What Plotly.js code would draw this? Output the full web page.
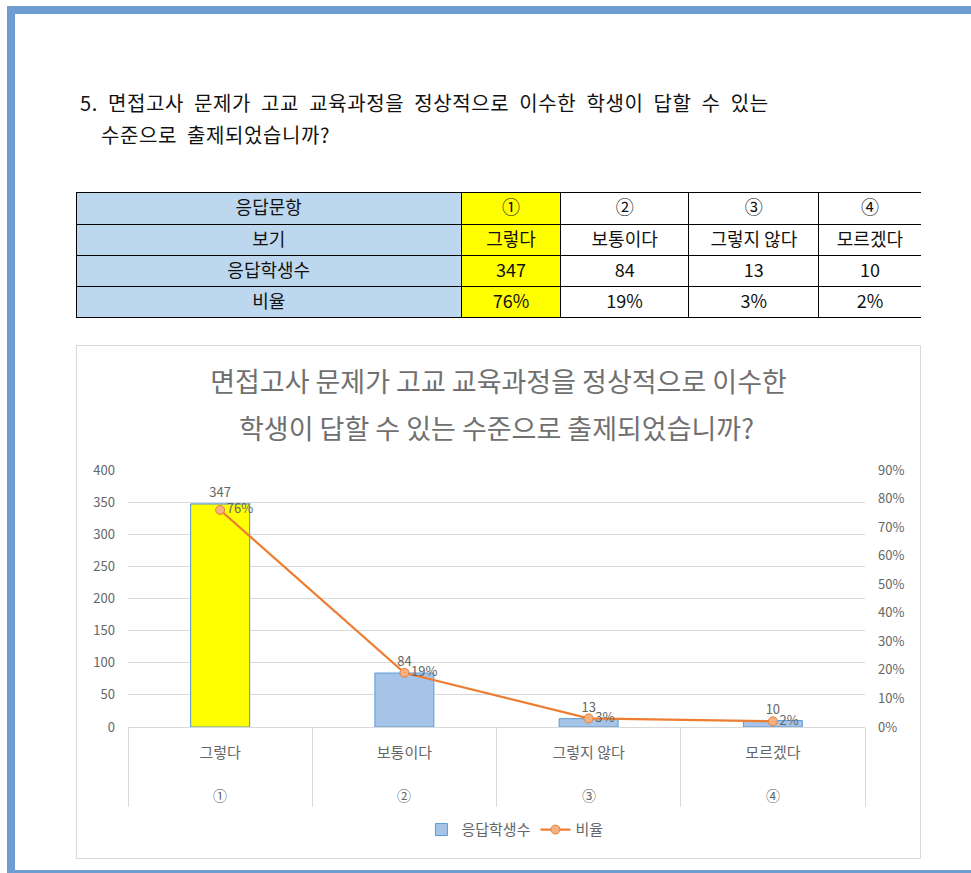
<!DOCTYPE html>
<html>
<head>
<meta charset="utf-8">
<script src="https://cdn.plot.ly/plotly-3.0.1.min.js"></script>
<style>
  html, body { margin:0; padding:0; background:#fff; width:971px; height:873px; overflow:hidden; }
  body { position:relative; font-family:"Noto Sans CJK KR","Noto Sans",sans-serif; }
  #frame { position:absolute; left:7px; top:6px; width:1000px; height:856px;
           border-left:8px solid #6F9DD2; border-top:8px solid #6F9DD2; border-bottom:4px solid #6F9DD2; }
  .hd { position:absolute; font-size:20px; line-height:32px; color:#111; letter-spacing:0.6px; word-spacing:5px; white-space:nowrap; }
  #tbl { position:absolute; left:76px; top:192px; width:845px; height:126px; }
  #chartbox { position:absolute; left:76px; top:345px; width:843px; height:512px; border:1px solid #D9D9D9; }
  #chart { width:843px; height:512px; }
</style>
</head>
<body>
<div id="frame"></div>
<div class="hd" id="hd1" style="left:80px; top:87px;"></div>
<div class="hd" id="hd2" style="left:101px; top:119px;"></div>
<div id="tbl"></div>
<div id="chartbox"><div id="chart"></div></div>
<script>
// ---- data ----
const headingLines = ["5. 면접고사 문제가 고교 교육과정을 정상적으로 이수한 학생이 답할 수 있는", "수준으로 출제되었습니까?"];
const chartTitleLines = ["면접고사 문제가 고교 교육과정을 정상적으로 이수한", "학생이 답할 수 있는 수준으로 출제되었습니까?"];
const rowLabels = ["응답문항", "보기", "응답학생수", "비율"];
const optionMarks = ["①", "②", "③", "④"];
const choices = ["그렇다", "보통이다", "그렇지 않다", "모르겠다"];
const counts = [347, 84, 13, 10];
const ratioPct = [76, 19, 3, 2];
const seriesNames = ["응답학생수", "비율"];

document.getElementById('hd1').textContent = headingLines[0];
document.getElementById('hd2').textContent = headingLines[1];

const FONT = '"Noto Sans CJK KR", "Noto Sans", sans-serif';
const ratios = ratioPct.map(v => v / 100);
const ratioText = ratioPct.map(v => v + '%');

// ---- table ----
const colColors = ['#BDD7EE', '#FFFF00', '#FFFFFF', '#FFFFFF', '#FFFFFF'];
const tableTrace = {
  type: 'table',
  columnwidth: [385, 99, 128, 130, 102],
  header: {
    values: [rowLabels[0]].concat(optionMarks),
    align: 'center',
    height: 32,
    fill: { color: colColors },
    line: { color: '#000', width: 1 },
    font: { family: FONT, size: 18, color: '#111' }
  },
  cells: {
    values: [rowLabels.slice(1)].concat(choices.map((c, i) => [c, String(counts[i]), ratioText[i]])),
    align: 'center',
    height: 31,
    fill: { color: colColors },
    line: { color: '#000', width: 1 },
    font: { family: FONT, size: 18, color: '#111' }
  }
};
Plotly.newPlot('tbl', [tableTrace], {
  width: 845, height: 126, margin: { l: 0, r: 0, t: 0, b: 0 },
  paper_bgcolor: '#fff'
}, { displayModeBar: false, staticPlot: true });

// ---- chart ----
const GRAY = '#666666';
const barTrace = {
  type: 'bar', x: choices, y: counts, name: seriesNames[0],
  width: 0.32,
  marker: { color: '#A6C4E8', line: { color: '#5B9BD5', width: 1 } },
  text: counts.map(String), textposition: 'outside', cliponaxis: false,
  textfont: { family: FONT, size: 13, color: GRAY },
  hoverinfo: 'skip'
};
const highlightTrace = {
  type: 'bar', x: [choices[0]], y: [counts[0]], showlegend: false,
  width: 0.32,
  marker: { color: '#FFFF00', line: { color: '#5B9BD5', width: 1 } },
  hoverinfo: 'skip'
};
const lineTrace = {
  type: 'scatter', mode: 'lines+markers+text', x: choices, y: ratios, yaxis: 'y2',
  name: seriesNames[1],
  line: { color: '#ED7D31', width: 2.25 },
  marker: { size: 9, color: '#F4B183', line: { color: '#ED7D31', width: 1 } },
  text: ratioText, textposition: 'middle right', cliponaxis: false,
  textfont: { family: FONT, size: 13, color: GRAY },
  hoverinfo: 'skip'
};

const layout = {
  width: 843, height: 512,
  margin: { l: 51, r: 55, t: 124, b: 131 },
  paper_bgcolor: '#fff', plot_bgcolor: '#fff',
  font: { family: FONT, color: GRAY },
  barmode: 'overlay',
  title: {
    text: chartTitleLines[0], x: 0.5, xref: 'container', xanchor: 'center',
    y: 1 - 37 / 512, yref: 'container', yanchor: 'middle',
    font: { family: FONT, size: 27, color: '#707070' }
  },
  xaxis: {
    type: 'category', range: [-0.5, 3.5], tickson: 'boundaries',
    ticks: 'outside', ticklen: 79, tickcolor: '#D9D9D9', tickwidth: 1,
    showline: true, linecolor: '#D9D9D9', showgrid: false, zeroline: false,
    tickfont: { family: FONT, size: 15, color: GRAY },
    ticklabelstandoff: 12, fixedrange: true
  },
  yaxis: {
    range: [0, 400], dtick: 50, tick0: 0,
    showgrid: true, gridcolor: '#D9D9D9', gridwidth: 1,
    zeroline: false, showline: false, ticks: '',
    tickfont: { family: FONT, size: 13, color: GRAY },
    ticklabelstandoff: 12, fixedrange: true
  },
  yaxis2: {
    overlaying: 'y', side: 'right', range: [0, 0.9], dtick: 0.1, tick0: 0,
    tickformat: '.0%', showgrid: false, zeroline: false, showline: false, ticks: '',
    tickfont: { family: FONT, size: 13, color: GRAY },
    ticklabelstandoff: 12, fixedrange: true
  },
  legend: {
    orientation: 'h', x: 0.525, xanchor: 'center', y: -0.40, yanchor: 'middle',
    font: { family: FONT, size: 15, color: GRAY }, traceorder: 'normal'
  },
  annotations: optionMarks.map((m, i) => ({
    x: choices[i], xref: 'x', y: 0, yref: 'paper', yshift: -68, yanchor: 'middle',
    text: m, showarrow: false, font: { family: FONT, size: 14, color: GRAY }
  })).concat([{
    x: 0.5, xref: 'paper', xanchor: 'center', y: 1 + 42 / 257, yref: 'paper', yanchor: 'middle',
    text: chartTitleLines[1], showarrow: false, font: { family: FONT, size: 27, color: '#707070' }
  }])
};

Plotly.newPlot('chart', [barTrace, highlightTrace, lineTrace], layout, { displayModeBar: false, staticPlot: true });
</script>
</body>
</html>
